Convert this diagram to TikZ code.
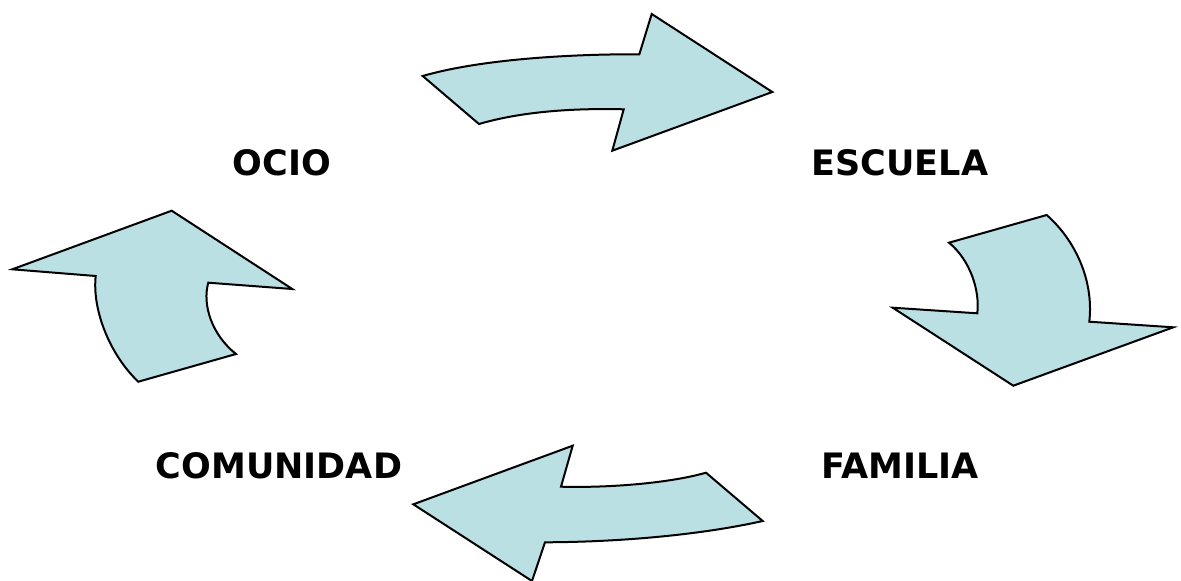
\documentclass[tikz,border=0pt]{standalone}
\usepackage{fontspec}
\setmainfont{DejaVu Sans}
\usepackage{xcolor}
\usepackage{tikz}
\definecolor{arrowblue}{RGB}{186,224,228}

\begin{document}
\begin{tikzpicture}[x=1pt,y=-1pt,
    arrowshape/.style={draw=black, fill=arrowblue, line width=2pt, line join=miter},
    labelnode/.style={font=\fontsize{35}{40}\selectfont\bfseries, inner sep=0pt}]
            \useasboundingbox (0,0) rectangle (1181,581);

            %Nodes
            \node[labelnode](ocio) at (282,163){OCIO};
            \node[labelnode](escuela) at (900,163){ESCUELA};
            \node[labelnode](familia) at (900,466){FAMILIA};
            \node[labelnode](comunidad) at (279,466){COMUNIDAD};

            %Arrows
            % ocio -> escuela
            \draw[arrowshape] (422.7,76) .. controls (485,58) and (580,54) .. (639.3,54.3)
                -- (651.7,14) -- (772.3,92) -- (612.3,150.7) -- (623.7,109.3)
                .. controls (570,108) and (520,112) .. (479,124) -- cycle;
            % escuela -> familia
            \draw[arrowshape] (949,242.7) -- (1046.7,215)
                .. controls (1075,240) and (1094,280) .. (1089.3,321.7)
                -- (1173.3,327.3) -- (1013.3,385.7) -- (892.7,307.7) -- (977.3,313.3)
                .. controls (980,290) and (970,260) .. cycle;
            % familia -> comunidad
            \draw[arrowshape] (413.3,504.3) -- (572.7,445.7) -- (561,486.7)
                .. controls (610,488) and (670,483) .. (706,472.7)
                -- (762.7,521)
                .. controls (700,535) and (620,542) .. (545,542.3)
                -- (532,581) -- cycle;
            % comunidad -> ocio
            \draw[arrowshape] (12.3,269.3) -- (171.7,210.7) -- (292.3,289) -- (208.3,282.7)
                .. controls (202,305) and (212,335) .. (236,354)
                -- (138.3,381.7)
                .. controls (110,355) and (92,310) .. (95.7,276) -- cycle;

        \end{tikzpicture}
\end{document}
